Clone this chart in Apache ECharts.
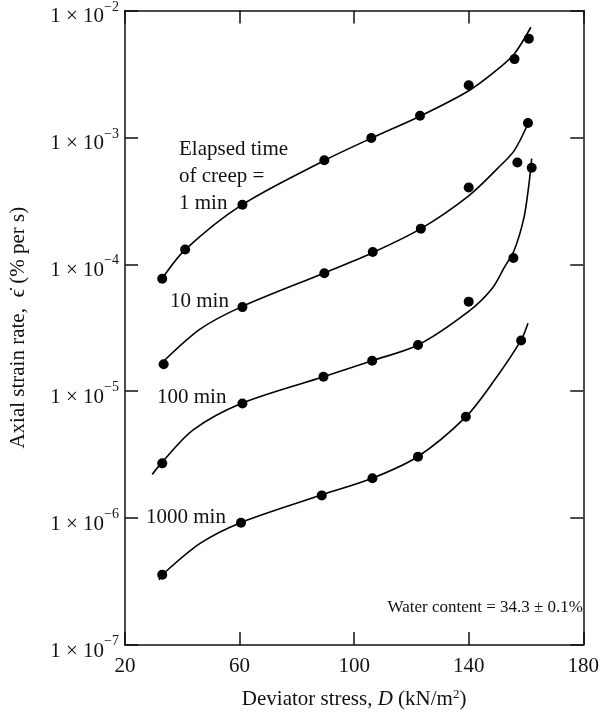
<!DOCTYPE html>
<html>
<head>
<meta charset="utf-8">
<script src="https://cdn.jsdelivr.net/npm/echarts@6/dist/echarts.min.js"></script>
<style>html,body{margin:0;padding:0;background:#fff;}#c{width:602px;height:715px;}</style>
</head>
<body>
<div id="c"></div>
<script>
// ---- data ----
var xTicks = [20, 60, 100, 140, 180];
var yTickExps = [-2, -3, -4, -5, -6, -7];

// measured points [deviator stress, strain rate]
var pts1 = [[33, 7.7e-5], [41, 1.31e-4], [61, 2.95e-4], [89.6, 6.6e-4], [106, 9.9e-4], [123, 1.48e-3], [140, 2.58e-3], [156, 4.14e-3], [161, 6.0e-3]];
var pts10 = [[33.5, 1.63e-5], [61, 4.6e-5], [89.6, 8.5e-5], [106.5, 1.25e-4], [123.3, 1.91e-4], [140, 4.03e-4], [157, 6.35e-4], [160.7, 1.30e-3]];
var pts100 = [[33, 2.7e-6], [61, 8.0e-6], [89.3, 1.30e-5], [106.3, 1.74e-5], [122.3, 2.31e-5], [140, 5.08e-5], [155.6, 1.12e-4], [162, 5.77e-4]];
var pts1000 = [[33, 3.58e-7], [60.5, 9.2e-7], [88.7, 1.51e-6], [106.4, 2.06e-6], [122.3, 3.05e-6], [139, 6.28e-6], [158.3, 2.51e-5]];

// fitted curves
var curve1 = [[32.9, 7.67e-5], [41.1, 1.31e-4], [60.8, 2.94e-4], [89.6, 6.58e-4], [106.3, 9.93e-4], [123, 1.47e-3], [139.6, 2.30e-3], [149.1, 3.30e-3], [155.9, 4.55e-3], [161.7, 7.38e-3]];
var curve10 = [[31.9, 1.59e-5], [46.2, 3.08e-5], [60.8, 4.64e-5], [89.6, 8.55e-5], [106.6, 1.24e-4], [123.3, 1.91e-4], [139.9, 3.45e-4], [150.1, 5.70e-4], [155.9, 7.87e-4], [160.7, 1.28e-3]];
var curve100 = [[29.5, 2.21e-6], [32.9, 2.75e-6], [43.8, 4.96e-6], [60.8, 8.04e-6], [89.3, 1.30e-5], [106.3, 1.74e-5], [122.3, 2.31e-5], [140, 4.25e-5], [148.1, 6.41e-5], [152.5, 9.51e-5], [155.9, 1.29e-4], [159.3, 2.33e-4], [161, 4.21e-4], [162, 6.82e-4]];
var curve1000 = [[31.9, 3.26e-7], [32.9, 3.56e-7], [46.2, 6.32e-7], [60.4, 9.21e-7], [88.6, 1.52e-6], [106.3, 2.06e-6], [122.3, 3.06e-6], [138.9, 6.25e-6], [148.4, 1.17e-5], [158.3, 2.53e-5], [160.7, 3.43e-5]];

var curveLabels = ['1 min', '10 min', '100 min', '1000 min'];
var note = 'Water content = 34.3 \u00b1 0.1%';

// ---- chart ----
var FONT = 'Liberation Serif';
var FS = 21;
var chart = echarts.init(document.getElementById('c'), null, {renderer: 'canvas'});

var axisLine = {show: true, lineStyle: {color: '#111', width: 1.5}};
var tick = {show: true, inside: true, length: 13, lineStyle: {color: '#111', width: 1.5}};

function curveSeries(d) {
  return {type: 'line', data: d, smooth: 0.3, showSymbol: false, symbol: 'none',
    lineStyle: {color: '#000', width: 1.6}, xAxisIndex: 0, yAxisIndex: 0, silent: true, z: 2};
}
function pointSeries(d) {
  return {type: 'scatter', data: d, symbol: 'circle', symbolSize: 10, itemStyle: {color: '#000', opacity: 1},
    xAxisIndex: 0, yAxisIndex: 0, silent: true, z: 3};
}

var option = {
  animation: false,
  backgroundColor: '#fff',
  grid: {left: 120, right: 11, top: 10, bottom: 62, containLabel: false},
  xAxis: [{
    type: 'value', min: 20, max: 180, interval: 40, position: 'bottom',
    axisLine: axisLine, axisTick: tick, splitLine: {show: false},
    axisLabel: {fontFamily: FONT, fontSize: FS, color: '#111', margin: 11,
      formatter: function (v) { return xTicks.indexOf(v) >= 0 ? String(v) : ''; }},
    name: '{n|Deviator stress, }{i|D}{n| (kN/m}{s|2}{n|)}',
    nameLocation: 'middle', nameGap: 43,
    nameTextStyle: {rich: {
      n: {fontFamily: FONT, fontSize: FS, color: '#111'},
      i: {fontFamily: FONT, fontSize: FS, fontStyle: 'italic', color: '#111'},
      s: {fontFamily: FONT, fontSize: 13, color: '#111', padding: [0, 0, 10, 0]}
    }}
  }, {
    type: 'value', min: 20, max: 180, interval: 40, position: 'top',
    axisLine: axisLine, axisTick: tick, axisLabel: {show: false}, splitLine: {show: false}
  }],
  yAxis: [{
    type: 'log', logBase: 10, min: 1e-7, max: 1e-2,
    axisLine: axisLine, axisTick: tick, splitLine: {show: false}, minorTick: {show: false},
    axisLabel: {margin: 6, formatter: function (v) {
      var e = Math.round(Math.log(v) / Math.LN10);
      return '{a|1 \u00d7 10}{b|\u2212' + (-e) + '}';
    }, rich: {
      a: {fontFamily: FONT, fontSize: FS, color: '#111', padding: [12, 0, 0, 0]},
      b: {fontFamily: FONT, fontSize: 14, color: '#111', padding: [0, 0, 7, 0]}
    }},
    name: 'Axial strain rate,  \u03f5\u0307 (% per s)',
    nameLocation: 'middle', nameGap: 96, nameRotate: 90,
    nameTextStyle: {fontFamily: FONT, fontSize: FS, color: '#111'}
  }, {
    type: 'log', logBase: 10, min: 1e-7, max: 1e-2, position: 'right',
    axisLine: axisLine, axisTick: tick, axisLabel: {show: false}, splitLine: {show: false}
  }],
  series: [
    curveSeries(curve1), curveSeries(curve10), curveSeries(curve100), curveSeries(curve1000),
    pointSeries(pts1), pointSeries(pts10), pointSeries(pts100), pointSeries(pts1000)
  ],
  graphic: [
    {type: 'text', left: 179, top: 136, style: {text: 'Elapsed time\nof creep =\n' + curveLabels[0], font: FS + 'px "' + FONT + '"', fill: '#111', lineHeight: 27}},
    {type: 'text', left: 170, top: 291, style: {text: curveLabels[1], font: FS + 'px "' + FONT + '"', fill: '#111'}},
    {type: 'text', left: 157, top: 387, style: {text: curveLabels[2], font: FS + 'px "' + FONT + '"', fill: '#111'}},
    {type: 'text', left: 146, top: 507, style: {text: curveLabels[3], font: FS + 'px "' + FONT + '"', fill: '#111'}},
    {type: 'text', right: 19, top: 599, style: {text: note, font: '17px "' + FONT + '"', fill: '#111'}}
  ]
};
chart.setOption(option);
</script>
</body>
</html>
